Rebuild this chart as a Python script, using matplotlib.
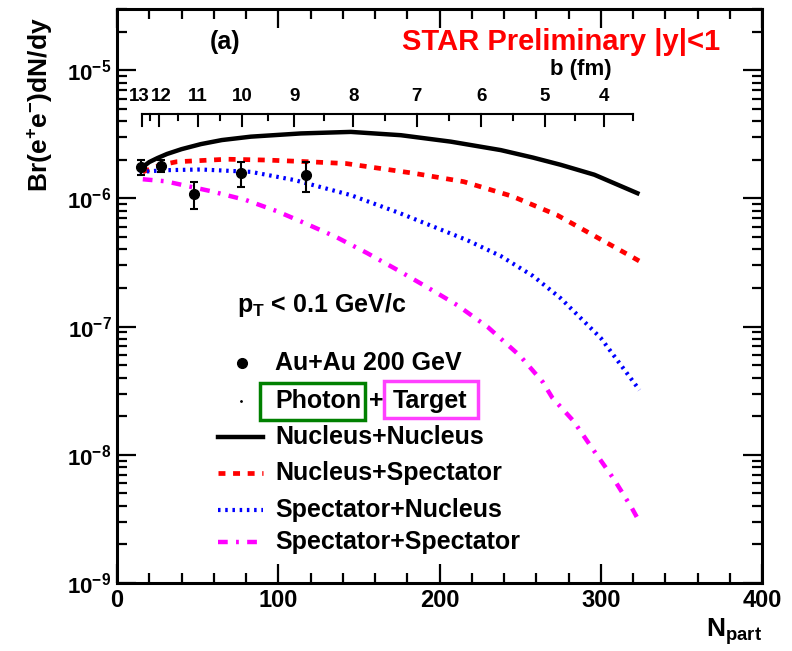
import matplotlib
matplotlib.use('Agg')
import matplotlib.pyplot as plt
import matplotlib.transforms as mtransforms
from matplotlib.ticker import MultipleLocator, LogLocator, NullFormatter, FixedLocator
from matplotlib.patches import Rectangle

#---------Style--------
plt.rcParams['font.family'] = ['Liberation Sans', 'DejaVu Sans']
plt.rcParams['font.weight'] = 'bold'
plt.rcParams['mathtext.fontset'] = 'custom'
plt.rcParams['mathtext.rm'] = 'Liberation Sans:bold'
plt.rcParams['mathtext.bf'] = 'Liberation Sans:bold'
plt.rcParams['mathtext.it'] = 'Liberation Sans:bold'
plt.rcParams['lines.scale_dashes'] = False

#---------Daten--------
# STAR Au+Au 200 GeV Messpunkte
daten_npart = [15, 27, 48, 77, 117]
daten_wert = [1.76e-6, 1.80e-6, 1.08e-6, 1.57e-6, 1.52e-6]
daten_fehler = [0.25e-6, 0.2e-6, 0.25e-6, 0.35e-6, 0.4e-6]

# Modellkurven
nn_npart = [15, 20, 25, 31, 40, 52, 65, 83, 114, 145, 176, 207, 238, 258, 275, 296, 324]
nn_wert = [1.72e-6, 1.92e-6, 2.06e-6, 2.22e-6, 2.42e-6, 2.65e-6, 2.85e-6, 3.03e-6, 3.21e-6,
           3.30e-6, 3.11e-6, 2.77e-6, 2.38e-6, 2.08e-6, 1.83e-6, 1.53e-6, 1.08e-6]

ns_npart = [16, 27, 37, 68, 93, 119, 142, 184, 215, 245, 273, 319, 324]
ns_wert = [1.61e-6, 1.82e-6, 1.93e-6, 2.02e-6, 1.99e-6, 1.93e-6, 1.87e-6,
           1.57e-6, 1.35e-6, 1.04e-6, 7.4e-7, 3.52e-7, 3.24e-7]

sn_npart = [14, 31, 52, 83, 110, 145, 175, 217, 238, 258, 275, 300, 324]
sn_wert = [1.61e-6, 1.66e-6, 1.68e-6, 1.61e-6, 1.39e-6, 1.06e-6, 7.7e-7, 4.73e-7,
           3.55e-7, 2.48e-7, 1.67e-7, 8.15e-8, 3.2e-8]

ss_npart = [16, 30, 58, 80, 99, 115, 136, 155, 174, 192, 211, 230, 250, 264, 270, 283, 295, 308, 319, 324]
ss_wert = [1.41e-6, 1.36e-6, 1.14e-6, 9.7e-7, 7.96e-7, 6.53e-7, 4.99e-7, 3.75e-7, 2.76e-7,
           2.04e-7, 1.47e-7, 9.9e-8, 5.9e-8, 3.7e-8, 2.78e-8, 1.84e-8, 1.11e-8, 6.5e-9, 3.9e-9, 3.0e-9]

# Stossparameter-Achse b (fm) gegen Npart
b_werte = [13, 12, 11, 10, 9, 8, 7, 6, 5, 4]
b_npart = [15.5, 26, 50, 77.5, 110, 146.5, 186, 226, 265.5, 302]
b_ende = 320

y_ticks = [1e-9, 1e-8, 1e-7, 1e-6, 1e-5]
y_ticklabels = [r'$\mathbf{10^{-9}}$', r'$\mathbf{10^{-8}}$', r'$\mathbf{10^{-7}}$',
                r'$\mathbf{10^{-6}}$', r'$\mathbf{10^{-5}}$']

#---------Plot--------
fig = plt.figure(figsize=(7.92, 6.51), dpi=100)
ax = fig.add_axes([117/792, 1-583/651, 645/792, 574/651])

ax.plot(nn_npart, nn_wert, color='black', lw=3.2, solid_capstyle='butt')
ax.plot(ns_npart, ns_wert, color='#ff0000', lw=3.4, dashes=(5, 5.5))
ax.plot(sn_npart, sn_wert, color='#0000ff', lw=3.0, dashes=(1.8, 3.4))
ax.plot(ss_npart, ss_wert, color='#ff00ff', lw=3.2, dashes=(7, 6, 2, 6))
ax.errorbar(daten_npart, daten_wert, yerr=daten_fehler, fmt='o', color='black',
            ms=7, elinewidth=1.5, capsize=3, capthick=1.5)

ax.set_yscale('log')
ax.set_xlim(0, 400)
ax.set_ylim(1e-9, 3e-5)
ax.xaxis.set_major_locator(MultipleLocator(100))
ax.xaxis.set_minor_locator(MultipleLocator(20))
ax.yaxis.set_major_locator(FixedLocator(y_ticks))
ax.set_yticklabels(y_ticklabels)
ax.yaxis.set_minor_locator(LogLocator(subs=range(2, 10)))
ax.yaxis.set_minor_formatter(NullFormatter())
ax.tick_params(which='both', direction='in', top=True, right=True, width=1.6)
ax.tick_params(which='major', length=14)
ax.tick_params(which='minor', length=7)
ax.tick_params(axis='x', labelsize=17, pad=4)
ax.tick_params(axis='y', labelsize=16, pad=4)
for s in ax.spines.values():
    s.set_linewidth(2.2)

# Achsenbeschriftungen
ax.text(1.0, -0.085, r'$\mathbf{N_{part}}$', transform=ax.transAxes, ha='right', va='center', fontsize=19)
ax.text(-0.119, 0.985, r'$\mathbf{Br(e^{+}e^{-})dN/dy}$', transform=ax.transAxes,
        rotation=90, ha='center', va='top', fontsize=19)

# b-Achse oben
trans = mtransforms.blended_transform_factory(ax.transData, ax.transAxes)
yb = 0.817
ax.plot([b_npart[0], b_ende], [yb, yb], transform=trans, color='black', lw=1.5)
for n, b in zip(b_npart, b_werte):
    ax.plot([n, n], [yb, yb - 12/574], transform=trans, color='black', lw=1.5)
    # 13 und 12 stehen sehr eng, Beschriftung etwas auseinanderschieben
    xl = n - 1.5 if b == 13 else (n + 1.5 if b == 12 else n)
    ax.text(xl, 0.847, str(b), transform=trans, ha='center', va='center', fontsize=13.5)
b_minor = [(b_npart[i] + b_npart[i+1]) / 2 for i in range(len(b_npart) - 1)] + [b_ende]
for n in b_minor:
    ax.plot([n, n], [yb, yb - 6/574], transform=trans, color='black', lw=1.5)
ax.text(307, 0.894, 'b (fm)', transform=trans, ha='right', va='center', fontsize=16)

# Texte
ax.text(0.1674, 0.9425, '(a)', transform=ax.transAxes, ha='center', va='center', fontsize=18)
ax.text(0.935, 0.9425, 'STAR Preliminary |y|<1', transform=ax.transAxes, ha='right',
        va='center', fontsize=21, color='#ff0000')
ax.text(0.186, 0.4843, r'$\mathbf{p_{T}}$ < 0.1 GeV/c', transform=ax.transAxes,
        ha='left', va='center', fontsize=18)

# Legende von Hand
tx = 0.245
ax.plot([0.1933], [0.3826], 'o', color='black', ms=7, transform=ax.transAxes)
ax.text(tx, 0.3826, 'Au+Au 200 GeV', transform=ax.transAxes, ha='left', va='center', fontsize=18)
ax.plot([0.1918], [0.3171], '.', color='black', ms=2, transform=ax.transAxes)
ax.text(tx, 0.3171, 'Photon', transform=ax.transAxes, ha='left', va='center', fontsize=18)
ax.text(0.4026, 0.3171, '+', transform=ax.transAxes, ha='center', va='center', fontsize=18)
ax.text(0.428, 0.3171, 'Target', transform=ax.transAxes, ha='left', va='center', fontsize=18)
ax.add_patch(Rectangle((0.2217, 0.2845), 0.1628, 0.0645, transform=ax.transAxes,
                       fill=False, edgecolor='#008000', lw=2.5))
ax.add_patch(Rectangle((0.4144, 0.288), 0.1458, 0.0644, transform=ax.transAxes,
                       fill=False, edgecolor='#ff40ff', lw=2.5))

leg_namen = ['Nucleus+Nucleus', 'Nucleus+Spectator', 'Spectator+Nucleus', 'Spectator+Spectator']
leg_y = [0.2549, 0.1911, 0.1272, 0.0720]
leg_stil = [dict(color='black', lw=3.2),
            dict(color='#ff0000', lw=3.4, dashes=(5, 5.5)),
            dict(color='#0000ff', lw=3.0, dashes=(1.8, 3.4)),
            dict(color='#ff00ff', lw=3.2, dashes=(7, 6, 2, 6))]
for name, y, stil in zip(leg_namen, leg_y, leg_stil):
    ax.plot([0.1566, 0.2264], [y, y], transform=ax.transAxes, **stil)
    ax.text(tx, y, name, transform=ax.transAxes, ha='left', va='center', fontsize=18)

fig.savefig('out.png', dpi=100)
